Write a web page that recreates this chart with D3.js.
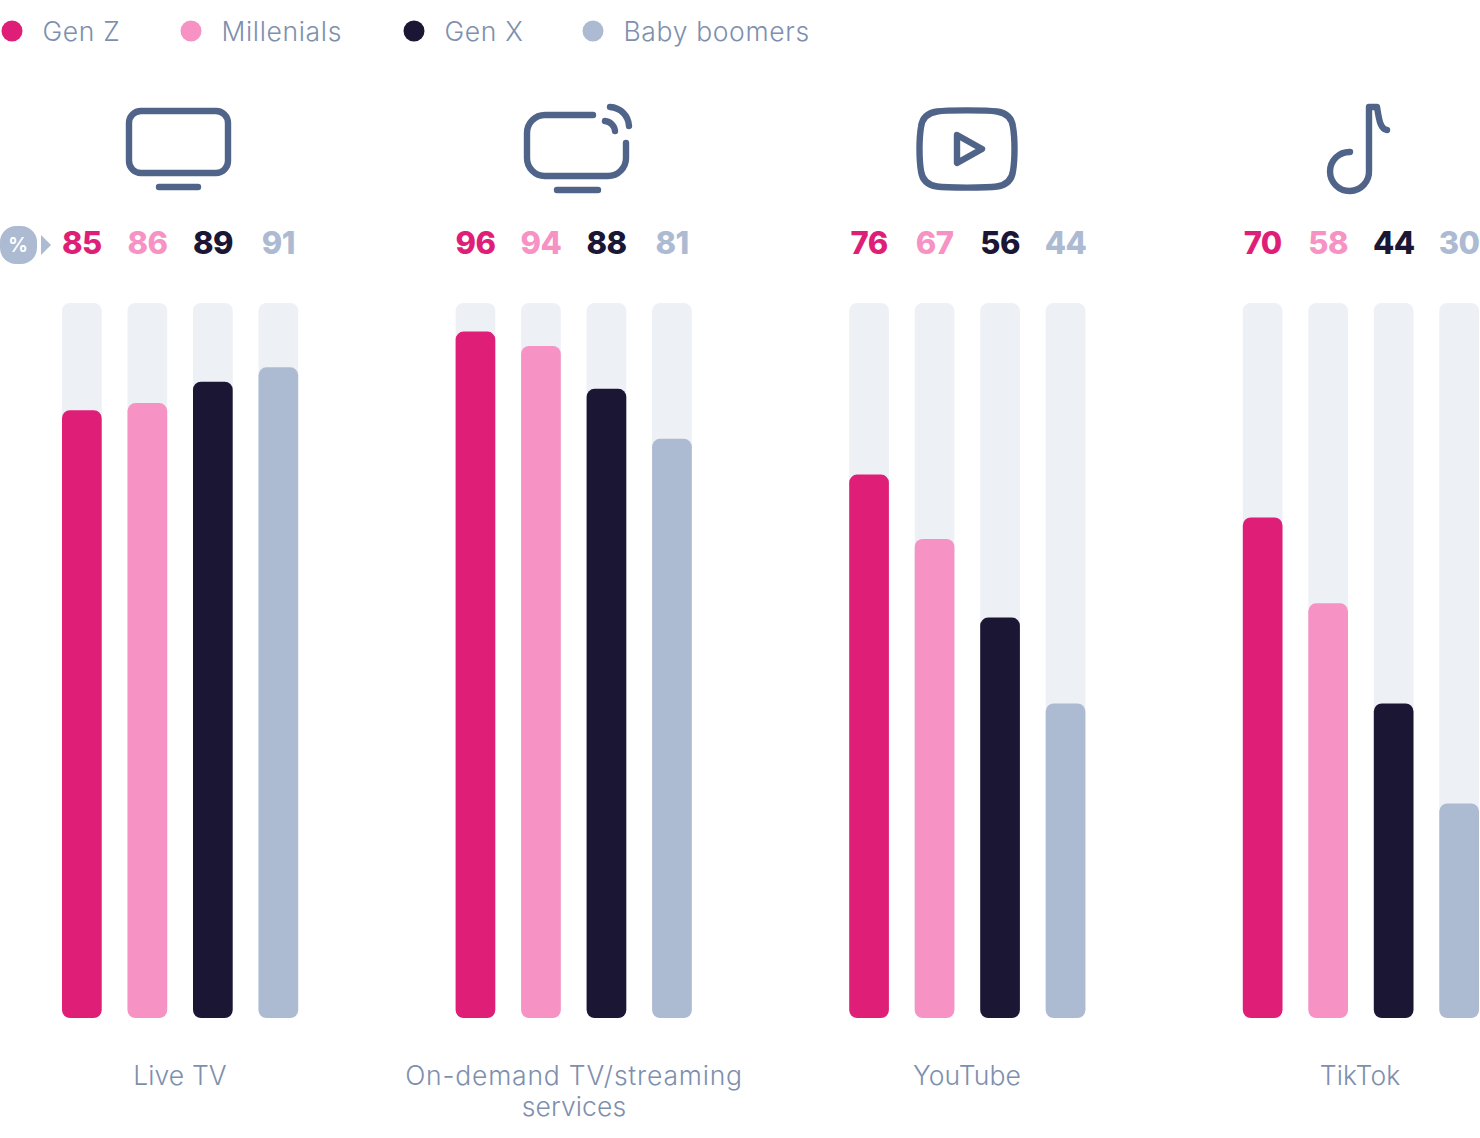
<!DOCTYPE html>
<html><head><meta charset="utf-8">
<script src="https://cdnjs.cloudflare.com/ajax/libs/d3/7.8.5/d3.min.js"></script>
<style>html,body{margin:0;padding:0;background:#fff}svg{display:block}
text{font-family:Inter,sans-serif}</style></head><body>
<svg id="c" width="1480" height="1138"></svg>
<script>
const generations=["Gen Z","Millenials","Gen X","Baby boomers"];
const colors=["#df1e78","#f692c4","#1a1633","#acbad2"];
const categoryLines=[["Live TV"],["On-demand TV/streaming","services"],["YouTube"],["TikTok"]];
const liveTV=[85,86,89,91];
const onDemand=[96,94,88,81];
const youTube=[76,67,56,44];
const tikTok=[70,58,44,30];
const seriesByCategory=[liveTV,onDemand,youTube,tikTok];
const legendX=[12,191,414,593];
const labelCenters=[180,574,967,1360];
const iconCenters=[178,577,967,1358];

const svg=d3.select("#c");
const y=d3.scaleLinear().domain([0,100]).range([1018,303]);
const groupX=d3.scaleBand().domain(d3.range(4)).range([62,1636.4]);
const barX=d3.scaleBand().domain(d3.range(4)).range([0,262]);
const barW=39.7;
const slate="#7e8fae", ink="#4f6488";

const lg=svg.selectAll("g.lg").data(generations).join("g").attr("class","lg");
lg.append("circle").attr("cx",(d,i)=>legendX[i]).attr("cy",31).attr("r",10.5).attr("fill",(d,i)=>colors[i]);
lg.append("text").attr("x",(d,i)=>legendX[i]+30.5).attr("y",40.5).attr("fill",slate)
  .attr("font-size",26.5).attr("font-weight",300).attr("letter-spacing",0.65).text(d=>d);

const g=svg.selectAll("g.grp").data(seriesByCategory).join("g").attr("class","grp")
  .attr("transform",(d,i)=>`translate(${groupX(i)},0)`);
g.selectAll("path.bg").data(d=>d).join("path").attr("class","bg").attr("fill","#edf0f5")
  .attr("d",(d,i)=>rr(barX(i),y(100),barW,y(0)-y(100),8));
g.selectAll("path.val").data(d=>d).join("path").attr("class","val").attr("fill",(d,i)=>colors[i])
  .attr("d",(d,i)=>rr(barX(i),y(d),barW,y(0)-y(d),8));
g.selectAll("text.num").data(d=>d).join("text").attr("class","num")
  .attr("x",(d,i)=>barX(i)+barW/2).attr("y",254).attr("text-anchor","middle")
  .attr("font-size",31).attr("font-weight",800).attr("letter-spacing",-0.6)
  .attr("fill",(d,i)=>colors[i]).text(d=>d);

function rr(x,y0,w,h,r){const p=d3.path();p.moveTo(x+r,y0);p.lineTo(x+w-r,y0);p.arcTo(x+w,y0,x+w,y0+r,r);
 p.lineTo(x+w,y0+h-r);p.arcTo(x+w,y0+h,x+w-r,y0+h,r);p.lineTo(x+r,y0+h);p.arcTo(x,y0+h,x,y0+h-r,r);
 p.lineTo(x,y0+r);p.arcTo(x,y0,x+r,y0,r);p.closePath();return p.toString();}

svg.selectAll("text.cat").data(categoryLines).join("text").attr("class","cat")
  .attr("text-anchor","middle").attr("fill",slate).attr("font-size",26.5).attr("font-weight",300)
  .each(function(lines,i){d3.select(this).selectAll("tspan").data(lines).join("tspan")
    .attr("x",labelCenters[i]).attr("y",(l,j)=>1085+j*31)
    .attr("letter-spacing",l=>l.length>10?0.8:0.1).text(l=>l);});

svg.append("rect").attr("x",0).attr("y",226).attr("width",37).attr("height",38).attr("rx",16).attr("fill","#acbad2");
svg.append("text").attr("x",18).attr("y",252).attr("text-anchor","middle").attr("fill","#fff")
  .attr("font-size",20).attr("font-weight",600).text("%");
svg.append("path").attr("d","M41 235L51 245L41 255Z").attr("fill","#acbad2");

const icons=[
 "M-37 -38H38A12 12 0 0 1 50 -26V12A12 12 0 0 1 38 24H-37A12 12 0 0 1 -49 12V-26A12 12 0 0 1 -37 -38Z M-19 38H20",
 "M16 -34H-32A18 18 0 0 0 -50 -16V9A18 18 0 0 0 -32 27H31A18 18 0 0 0 49 9V-6 M-20 41H21 M33 -42A20 20 0 0 1 52 -23 M28 -28A11 11 0 0 1 38 -18",
 "M-30 -37.5C-20 -39 20 -39 30 -37.5C40 -36 45 -30 46 -22C48 -10 48 10 46 22C45 30 40 36 30 37.5C20 39 -20 39 -30 37.5C-40 36 -45 30 -46 22C-48 10 -48 -10 -46 -22C-45 -30 -40 -36 -30 -37.5Z M-10 -14L15 0L-10 14Z",
 "M-8 4A19.5 19.5 0 1 0 11 22.5V-41H19C21 -29 22 -19 29 -18"
];
svg.selectAll("path.icon").data(icons).join("path").attr("class","icon")
  .attr("transform",(d,i)=>`translate(${iconCenters[i]},${i==3?148:149})`)
  .attr("d",d=>d).attr("fill","none").attr("stroke",ink).attr("stroke-width",6.4)
  .attr("stroke-linecap","round").attr("stroke-linejoin","round");
</script></body></html>
